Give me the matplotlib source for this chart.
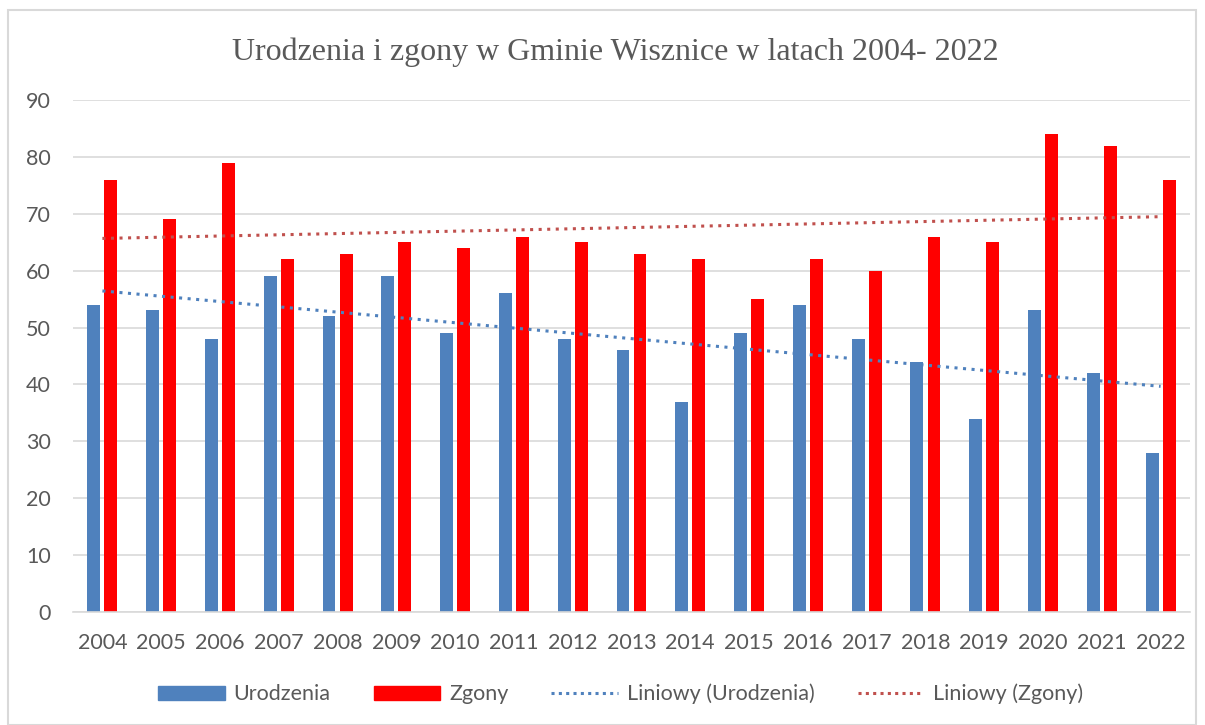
import numpy as np
import matplotlib
matplotlib.use("Agg")
import matplotlib.pyplot as plt
from matplotlib.patches import Rectangle, Patch
from matplotlib.lines import Line2D

years = [str(y) for y in range(2004, 2023)]
urodzenia = [54, 53, 48, 59, 52, 59, 49, 56, 48, 46, 37, 49, 54, 48, 44, 34, 53, 42, 28]
zgony = [76, 69, 79, 62, 63, 65, 64, 66, 65, 63, 62, 55, 62, 60, 66, 65, 84, 82, 76]

blue = "#4F81BD"
red = "#FF0000"
trend_red = "#C0504D"
txt = "#595959"

plt.rcParams["font.family"] = ["Lato", "DejaVu Sans"]

fig = plt.figure(figsize=(12.05, 7.25), dpi=100)
ax = fig.add_axes([73 / 1205, 1 - 612 / 725, (1190 - 73) / 1205, (612 - 100) / 725])

x = np.arange(len(years))
w = 0.22
off = 0.145
ax.bar(x - off, urodzenia, w, color=blue, zorder=2)
ax.bar(x + off, zgony, w, color=red, zorder=2)

# linear trendlines (like Excel "Liniowy")
pu = np.polyfit(x, urodzenia, 1)
pz = np.polyfit(x, zgony, 1)
ax.plot(x, np.polyval(pu, x), ls=(0, (1, 1.8)), lw=2.2, color=blue, zorder=3)
ax.plot(x, np.polyval(pz, x), ls=(0, (1, 1.8)), lw=2.2, color=trend_red, zorder=3)

ax.set_xlim(-0.5, len(years) - 0.5)
ax.set_ylim(0, 90)
ax.set_yticks(range(0, 91, 10))
ax.set_xticks(x)
ax.set_xticklabels(years)
ax.grid(axis="y", color="#D9D9D9", lw=1.2, zorder=0)
for s in ["top", "right", "left"]:
    ax.spines[s].set_visible(False)
ax.spines["bottom"].set_color("#D9D9D9")
ax.spines["bottom"].set_linewidth(1.2)
ax.tick_params(length=0, labelsize=15.5, colors=txt, pad=15)
ax.tick_params(axis="y", pad=16)

fig.text(0.511, 1 - 52 / 725, "Urodzenia i zgony w Gminie Wisznice w latach 2004- 2022",
         ha="center", va="center", fontsize=23, color=txt, family="Liberation Serif")

handles = [
    Patch(color=blue),
    Patch(color=red),
    Line2D([], [], color=blue, ls=(0, (1, 1.4)), lw=2.2),
    Line2D([], [], color=trend_red, ls=(0, (1, 1.4)), lw=2.2),
]
labels = ["Urodzenia", "Zgony", "Liniowy (Urodzenia)", "Liniowy (Zgony)"]
fig.legend(handles, labels, loc="center", bbox_to_anchor=(0.515, 1 - 694 / 725), ncol=4,
           frameon=False, fontsize=15.5, labelcolor=txt, handlelength=3.1, handleheight=0.65,
           columnspacing=2.0, handletextpad=0.4)

fig.patches.append(Rectangle((8 / 1205, 0), 1188 / 1205, 1 - 10 / 725, transform=fig.transFigure,
                             fill=False, edgecolor="#D9D9D9", lw=1.5))

fig.savefig("out.png", dpi=100, facecolor="white")
